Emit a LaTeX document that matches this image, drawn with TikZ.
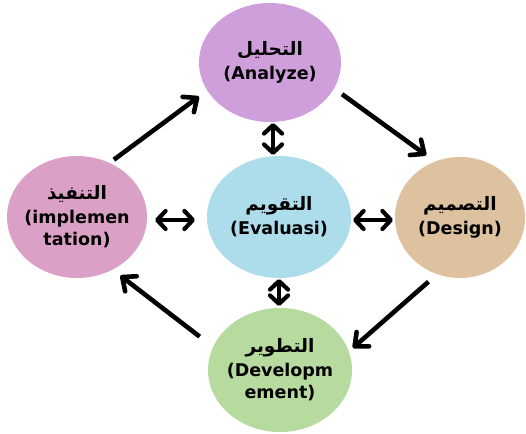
\documentclass[tikz,border=0pt]{standalone}
\usepackage{fontspec}
\setmainfont{DejaVu Sans}
\newfontfamily\arabicfont[Script=Arabic]{DejaVu Sans}
\TeXXeTstate=1
\usetikzlibrary{shapes.geometric,arrows.meta}
\definecolor{anaC}{HTML}{CF9FDB}
\definecolor{impC}{HTML}{DBA0C6}
\definecolor{evaC}{HTML}{ADDCEB}
\definecolor{desC}{HTML}{DEC29F}
\definecolor{devC}{HTML}{B7DB9E}
\newcommand{\artext}[1]{{\fontsize{18.5}{21}\selectfont\arabicfont\beginR #1\endR}}
\tikzset{
  stage/.style={ellipse, draw=none, inner sep=-14pt, outer sep=0pt, align=center,
    font=\fontsize{17.5}{22}\selectfont\bfseries, text=black},
  flow/.style={line width=4.6pt, -{Straight Barb[length=11pt,width=19pt,round]}},
  twoway/.style={line width=4.2pt, {Straight Barb[length=8.5pt,width=18pt,round]}-{Straight Barb[length=8.5pt,width=18pt,round]}},
}
\begin{document}
\begin{tikzpicture}[x=1pt,y=1pt]
\useasboundingbox (0,0) rectangle (526,433);
\node[stage, fill=anaC, minimum width=142pt, minimum height=119pt] (ana) at (270,370.5)
  {\artext{التحليل}\\[2pt](Analyze)};
\node[stage, fill=impC, minimum width=140pt, minimum height=122pt] (imp) at (77,216)
  {\artext{التنفيذ}\\[2pt](implemen\\tation)};
\node[stage, fill=evaC, minimum width=144pt, minimum height=122pt] (eva) at (279,216)
  {\artext{التقويم}\\[2pt](Evaluasi)};
\node[stage, fill=desC, minimum width=130pt, minimum height=121pt] (des) at (460,215.5)
  {\artext{التصميم}\\[2pt](Design)};
\node[stage, fill=devC, minimum width=144pt, minimum height=124pt] (dev) at (280,63)
  {\artext{التطوير}\\[2pt](Developm\\ement)};

\draw[flow, shorten <=5.5pt, shorten >=10.4pt] (imp.59.3) -- (ana.204.3);
\draw[flow, shorten <=10pt, shorten >=11pt] (ana.-22.7) -- (des.114.6);
\draw[flow, shorten <=11.5pt, shorten >=5.5pt] (des.248.2) -- (dev.15.1);
\draw[flow, shorten <=17pt, shorten >=10pt] (dev.161.4) -- (imp.-56.7);

\draw[twoway, shorten <=1pt, shorten >=1pt] ([xshift=3pt]ana.south) -- ([xshift=-6pt]eva.north);
\draw[twoway, shorten <=2pt, shorten >=2pt] ([yshift=-3pt]eva.east) -- ([yshift=-2.5pt]des.west);
\draw[twoway, shorten <=8pt, shorten >=12pt] ([yshift=-3pt]imp.east) -- ([yshift=-3pt]eva.west);
\draw[twoway, shorten <=1pt, shorten >=2pt] (eva.south) -- ([xshift=-1pt]dev.north);
\end{tikzpicture}
\end{document}
